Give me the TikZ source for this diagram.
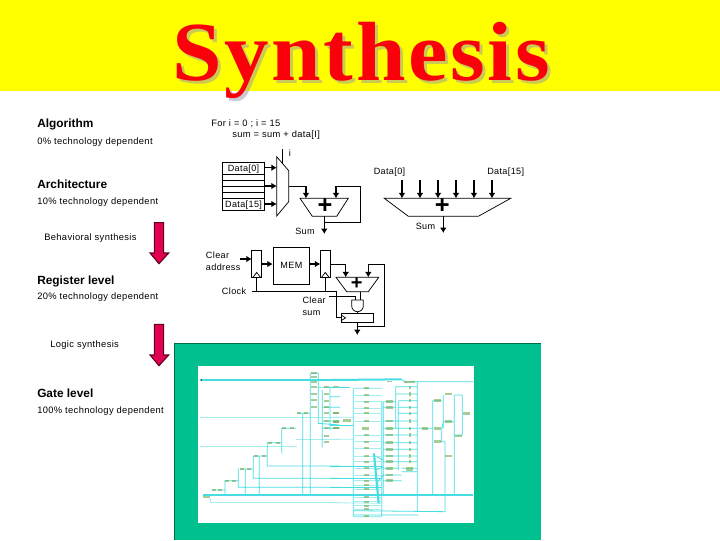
\documentclass[tikz,border=0pt]{standalone}
\usepackage{fontspec}
\setmainfont{Liberation Sans}
\newfontfamily\titlefont[LetterSpace=3]{Liberation Serif}
\newfontfamily\spfont[LetterSpace=4]{Liberation Sans}
\usetikzlibrary{arrows.meta}
\definecolor{ttlyellow}{RGB}{255,255,0}
\definecolor{ttlred}{RGB}{250,0,10}
\definecolor{ttlgray}{RGB}{150,150,170}
\definecolor{panelgreen}{RGB}{0,192,144}
\definecolor{arrowred}{RGB}{228,0,80}
\definecolor{netcyan}{RGB}{70,222,226}
\definecolor{netpale}{RGB}{165,238,240}
\definecolor{netgate}{RGB}{110,170,80}
\tikzset{
  lbl/.style={inner sep=0pt,anchor=west,font=\fontsize{7}{9}\selectfont\spfont,text=black},
  clbl/.style={inner sep=0pt,font=\fontsize{6.8}{9}\selectfont\spfont,text=black},
  head/.style={inner sep=0pt,anchor=west,font=\fontsize{8.9}{10}\selectfont\bfseries,text=black},
  wire/.style={draw=black,line width=0.55pt},
  arr/.style={draw=black,line width=1pt,-{Latex[length=4pt,width=5pt]}},
  plus/.style={inner sep=0pt,font=\fontsize{19}{19}\selectfont\bfseries},
  bigarrow/.style={fill=arrowred,draw=black!60!arrowred,line width=0.8pt},
  netw/.style={draw=netcyan,line width=0.6pt},
  netp/.style={draw=netpale,line width=0.6pt},
  netb/.style={draw=netcyan,line width=1.1pt},
  gateb/.style={fill=netgate,draw=none,opacity=0.6},
}
\begin{document}
\begin{tikzpicture}[x=0.75pt,y=-0.75pt]
\useasboundingbox (0,0) rectangle (720,540);
\fill[white] (0,0) rectangle (720,540);
\fill[ttlyellow] (0,0) rectangle (720,91);
% title
\node[inner sep=0pt,anchor=base,text=ttlgray,text opacity=0.5,font=\fontsize{63}{63}\selectfont\bfseries\titlefont] (ttlshadow) at (364,83.5) {\scalebox{1.06}[1]{Synthesis}};
\node[inner sep=0pt,anchor=base,text=ttlred,font=\fontsize{63}{63}\selectfont\bfseries\titlefont] (ttl) at (361,80.5) {\scalebox{1.06}[1]{Synthesis}};
% left column
\node[head] (a1) at (37,124.5) {Algorithm};
\node[lbl] (a2) at (37,142) {0\% technology dependent};
\node[head] (b1) at (37,184.5) {Architecture};
\node[lbl] (b2) at (37,202) {10\% technology dependent};
\node[lbl] (b3) at (44,238) {Behavioral synthesis};
\node[head] (c1) at (37,281) {Register level};
\node[lbl] (c2) at (37,297.5) {20\% technology dependent};
\node[lbl] (c3) at (50,345.5) {Logic synthesis};
\node[head] (d1) at (37,393.5) {Gate level};
\node[lbl] (d2) at (37,411.5) {100\% technology dependent};
% big arrows
\path[bigarrow] (154.3,222.7) -- (163.7,222.7) -- (163.7,253) -- (168.7,253) -- (159,263.7) -- (150,253) -- (154.3,253) -- cycle;
\path[bigarrow] (154.3,324.3) -- (163.7,324.3) -- (163.7,355) -- (168.7,355) -- (159,365.7) -- (150,355) -- (154.3,355) -- cycle;
% code
\node[lbl] (code1) at (211,123.5) {For i = 0 ; i = 15};
\node[lbl] (code2) at (232,135.5) {sum = sum + data[I]};
% register stack
\node[draw=black,line width=0.55pt,minimum width=41.7*0.75pt,minimum height=12*0.75pt,inner sep=0pt,clbl,anchor=north west] (r0) at (222.3,162.3) {Data[0]};
\node[draw=black,line width=0.55pt,minimum width=41.7*0.75pt,minimum height=12*0.75pt,inner sep=0pt,clbl,anchor=north west] (r15) at (222.3,198.3) {Data[15]};
\node[draw=black,line width=0.55pt,minimum width=41.7*0.75pt,minimum height=24*0.75pt,inner sep=0pt,anchor=north west] (rmid) at (222.3,174.3) {};
\draw[wire] (222.3,180.3) -- (264,180.3) (222.3,186.3) -- (264,186.3) (222.3,192.3) -- (264,192.3);
% mux
\coordinate (muxa) at (276.7,167.7);
\coordinate (muxb) at (276.7,186);
\coordinate (muxc) at (276.7,204);
\coordinate (muxout) at (288.7,186.3);
\draw[wire] (276.7,156.7) -- (288.7,170.7) -- (288.7,201.7) -- (276.7,216) -- cycle;
\coordinate (itop) at (282.7,149); \coordinate (ibot) at (282.7,163.5);
\draw[wire] (itop) -- (ibot);
\node[clbl] (ilbl) at (290,153) {i};
\coordinate (r0e) at (264,167.7); \coordinate (rme) at (264,186); \coordinate (r15e) at (264,204);
\draw[arr] (r0e) -- (muxa);
\draw[arr] (rme) -- (muxb);
\draw[arr] (r15e) -- (muxc);
% left adder
\coordinate (lt1) at (306,198.3); \coordinate (lt2) at (336,198.3);
\draw[wire] (300,198.3) -- (348.3,198.3) -- (336.7,216.3) -- (312.3,216.3) -- cycle;
\node[plus] (lplus) at (325,206.5) {+};
\draw[wire] (muxout) -- (306,186.3);
\draw[arr] (306,186.3) -- (lt1);
\coordinate (ladd) at (324.3,216.3); \coordinate (lout) at (324.3,234);
\draw[arr] (ladd) -- (lout);
\coordinate (ljoin) at (324.3,222.3);
\draw[wire] (ljoin) -- (360.3,222.3) -- (360.3,186.3) -- (336,186.3);
\draw[arr] (336,186.3) -- (lt2);
\node[clbl] (lsum) at (305,231.7) {Sum};
% right adder
\draw[wire] (384.3,198.3) -- (510.7,198.3) -- (478.3,216.3) -- (408.3,216.3) -- cycle;
\node[plus] (rplus) at (442.3,206.5) {+};
\foreach \xx in {402,420,438,456,474,492} { \coordinate (ta\xx) at (\xx,180); \coordinate (tb\xx) at (\xx,198.3); \draw[arr] (ta\xx) -- (tb\xx); }
\coordinate (radd) at (443.3,216.3); \coordinate (rout) at (443.3,233);
\draw[arr] (radd) -- (rout);
\node[clbl] (rsum) at (425.5,226) {Sum};
\node[clbl] (d0) at (389.5,172) {Data[0]};
\node[clbl] (d15) at (505.7,172) {Data[15]};
% register-level
\node[clbl,anchor=west] (ca1) at (205.7,255.7) {Clear};
\node[clbl,anchor=west] (ca2) at (205.7,267.5) {address};
\node[clbl,anchor=west] (clk) at (221.7,291.7) {Clock};
\node[clbl,anchor=west] (cs1) at (302.3,300.7) {Clear};
\node[clbl,anchor=west] (cs2) at (302.3,312.7) {sum};
\coordinate (cin) at (240,259); \coordinate (rg1in) at (251.7,259);
\draw[arr] (cin) -- (rg1in);
\draw[wire] (251.7,250) rectangle (261.7,277.7);
\draw[wire] (252.7,277.7) -- (256.7,272.4) -- (260.7,277.7);
\node[draw=black,line width=0.55pt,minimum width=36.6*0.75pt,minimum height=37*0.75pt,inner sep=0pt,clbl,anchor=north west] (mem) at (272.7,246.7) {MEM};
\draw[arr] (261.7,264) -- (272.7,264);
\draw[arr] (309.3,264) -- (320.3,264);
\draw[wire] (320.3,250) rectangle (330.3,277.7);
\draw[wire] (321.3,277.7) -- (325.3,272.4) -- (329.3,277.7);
\draw[wire] (330.3,264) -- (345.7,264);
\draw[arr] (345.7,264) -- (345.7,277.3);
\draw[wire] (336,277.3) -- (378.7,277.3) -- (368.3,291.7) -- (346.7,291.7) -- cycle;
\node[plus,font=\fontsize{15}{15}\selectfont\bfseries] (mplus) at (356.7,284) {+};
\draw[arr] (368.3,264) -- (368.3,277.3);
\draw[wire] (368.3,264) -- (384.3,264) -- (384.3,326.7) -- (357.3,326.7);
\draw[arr] (357.3,322.3) -- (357.3,335);
% clock lines
\draw[wire] (251.7,291.7) -- (336,291.7) -- (336,317.3) -- (341,317.3);
\draw[wire] (256.7,277.7) -- (256.7,291.7);
\draw[wire] (325.3,277.7) -- (325.3,291.7);
\draw[wire] (329.3,296.7) -- (355,296.7) -- (355,300);
\draw[wire] (360.7,291.7) -- (360.7,300);
% and gate
\draw[wire] (351.7,300) -- (363.3,300) -- (363.3,306) arc[start angle=0,end angle=180,x radius=5.8,y radius=5.7] -- cycle;
\draw[wire] (357.5,311.7) -- (357.5,313.3);
% sum register
\draw[wire] (341,313.3) rectangle (373.7,322.3);
\draw[wire] (341,314.8) -- (345.5,317.8) -- (341,320.8);
% green panel
\fill[panelgreen] (174,343) rectangle (541,540);
\draw[black!45!panelgreen,line width=0.6pt] (174,540) -- (174,343) -- (541,343);
\fill[white] (198,366) rectangle (474,523);
% netlist (coordinates in 3x crop units)
\begin{scope}[shift={(190,360)},x=0.25pt,y=-0.25pt]
\draw[netcyan,line width=1.5pt] (30,60) -- (450,60);
\draw[netp] (30,172) -- (450,172) (30,258) -- (320,258) (318,238) -- (450,238) (60,428) -- (450,428) (60,415) -- (60,428);
\draw[netb] (40,405) -- (450,405);
\draw[netw] (65,390) -- (105,390) (105,360) -- (105,405) (105,362) -- (145,362)
 (145,325) -- (145,382) -- (450,382) (150,327) -- (190,327) (190,288) -- (190,355) -- (450,355)
 (190,288) -- (232,288) (232,248) -- (232,318) -- (450,318) (232,248) -- (275,248) (275,205) -- (275,280)
 (275,205) -- (318,205) (208,288) -- (208,405) (166,327) -- (166,405)
 (338,160) -- (338,405) (322,160) -- (360,160) (361,40) -- (361,405) (362,40) -- (385,40) (385,40) -- (385,190) -- (450,195)
 (397,90) -- (397,262) (420,82) -- (420,210) (420,82) -- (450,82) (420,110) -- (450,110) (385,82) -- (420,82)
 (397,142) -- (450,142) (397,183) -- (450,183) (397,205) -- (450,205);
\foreach \gy in {40,52,66,80,102,120,142} { \fill[gateb] (364,\gy-3) rectangle (380,\gy+3); }
\foreach \gy in {82,102,122,142,160,183,203,228,245} { \fill[gateb] (402,\gy-3) rectangle (418,\gy+3); }
\foreach \gy in {82,160,185,205} { \fill[gateb] (430,\gy-3) rectangle (446,\gy+3); }
\foreach \gx/\gy in {70/390,90/390,110/362,130/362,155/327,175/327,198/288,220/288,240/248,262/248,282/205,305/205,325/160,348/160} { \fill[gateb] (\gx-5,\gy-3) rectangle (\gx+7,\gy+3); }
\fill[gateb] (40,409) rectangle (60,415);
\fill[black!70] (32,57) rectangle (36,62);
\end{scope}
\begin{scope}[shift={(330,360)},x=0.25pt,y=-0.25pt]
\draw[netcyan,line width=1.5pt] (0,60) -- (215,58);
\draw[netb] (0,405) -- (430,405);
\draw[netw] (215,58) -- (225,65) -- (430,65);
\draw[netp] (0,172) -- (70,172) (0,238) -- (70,238) (0,428) -- (155,430);
\draw[netw] (0,382) -- (155,382) (0,355) -- (155,355) (0,318) -- (155,318) (0,82) -- (60,82) (0,195) -- (70,195);
\draw[netw] (70,85) -- (70,470) -- (155,470) (70,85) -- (155,85) (70,465) -- (265,465) (70,452) -- (345,455)
 (155,125) -- (155,470) (160,125) -- (160,405) (197,80) -- (197,205) (205,125) -- (205,330)
 (262,65) -- (262,455) (345,245) -- (345,455) (308,122) -- (308,405) (373,105) -- (373,405) (397,105) -- (397,225)
 (335,205) -- (335,245) (335,122) -- (308,122) (335,205) -- (340,185) -- (373,185) (345,245) -- (330,245)
 (340,105) -- (340,205) (373,105) -- (397,105) (373,225) -- (397,225) (265,205) -- (308,205)
 (160,125) -- (197,125) (160,142) -- (197,142) (160,183) -- (205,183) (160,205) -- (205,205) (160,225) -- (205,225)
 (160,248) -- (205,248) (160,268) -- (205,268) (160,288) -- (205,288) (160,305) -- (205,305) (160,325) -- (205,325)
 (160,345) -- (215,345) (160,362) -- (215,362) (197,80) -- (262,80) (197,102) -- (262,102) (205,122) -- (262,122) (205,142) -- (262,142)
 (205,160) -- (262,160) (205,183) -- (262,183) (205,205) -- (262,205) (205,225) -- (262,225) (205,248) -- (262,248) (205,268) -- (262,268)
 (205,288) -- (262,288) (205,305) -- (262,305) (215,325) -- (262,325) (215,335) -- (262,335);
\foreach \gy in {85,105,125,145,160,183,225,245,265,288,305,325,345,362,375,388,412,425,437,448,468} {
  \draw[netp] (70,\gy) -- (155,\gy);
  \fill[gateb] (102,\gy-3) rectangle (116,\gy+3); }
\draw[netb,line width=1.6pt] (132,280) -- (146,430);
\draw[netw] (140,290) -- (160,300) (140,330) -- (160,320) (140,370) -- (160,345);
\fill[gateb] (96,200) rectangle (118,210);
\fill[gateb] (40,177) rectangle (62,187);
\fill[gateb] (8,156) rectangle (26,163); \fill[gateb] (10,181) rectangle (26,188); \fill[gateb] (8,201) rectangle (26,208);
\foreach \gy in {125,142,183,205,225,248,268,288,305,325,345,362} { \fill[gateb] (168,\gy-4) rectangle (190,\gy+4); }
\foreach \gy in {82,102,122,142,160,183,205,225,248,268,288,305} { \fill[gateb] (236,\gy-5) rectangle (244,\gy+5); }
\fill[gateb] (228,322) rectangle (250,332);
\fill[gateb] (222,62) rectangle (255,68);
\fill[gateb] (172,63) rectangle (186,67);
\foreach \gx/\gy in {322/122,322/205,322/245,285/205,355/102,355/185,355/288,385/228,410/160} { \fill[gateb] (\gx-10,\gy-4) rectangle (\gx+10,\gy+4); }
\end{scope}
\end{tikzpicture}
\end{document}
